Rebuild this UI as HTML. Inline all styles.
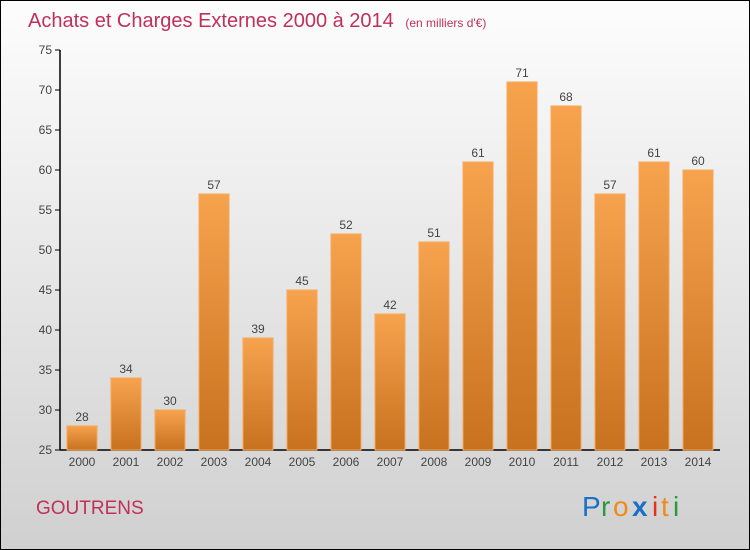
<!DOCTYPE html>
<html><head><meta charset="utf-8"><style>
body{margin:0;}
svg{display:block;}
text{font-family:"Liberation Sans",sans-serif;}
</style></head><body>
<svg id="chart" width="750" height="550">
<defs>
<linearGradient id="bg" x1="0" y1="0" x2="0" y2="1"><stop offset="0" stop-color="#fdfdfd"/><stop offset="1" stop-color="#d0d0d0"/></linearGradient>
<linearGradient id="bar" x1="0" y1="0" x2="0" y2="1"><stop offset="0" stop-color="#f7a34e"/><stop offset="1" stop-color="#c8711e"/></linearGradient>
</defs>
<rect x="0.5" y="0.5" width="749" height="549" fill="url(#bg)" stroke="#000"/>
<text x="28" y="27" font-size="20" fill="#c0305a">Achats et Charges Externes 2000 à 2014 <tspan font-size="12" dx="6">(en milliers d'€)</tspan></text>
<g id="axes"></g>
<g id="bars"></g>
<text x="36" y="514" font-size="19" fill="#c0305a">GOUTRENS</text>
<g font-size="28" font-family="Liberation Sans,sans-serif">
<text x="582" y="516" fill="#1a6fc8">P</text><text x="601" y="516" fill="#2a9a3a">r</text><text x="613" y="516" fill="#f08a1a">o</text><text x="632" y="516" fill="#1a6fc8" font-weight="bold">x</text><text x="652" y="516" fill="#e83020">i</text><text x="661" y="516" fill="#f08a1a">t</text><text x="673" y="516" fill="#2a9a3a">i</text>
</g>
</svg>
<script>
const years=["2000","2001","2002","2003","2004","2005","2006","2007","2008","2009","2010","2011","2012","2013","2014"];
const values=[28,34,30,57,39,45,52,42,51,61,71,68,57,61,60];
const yTicks=[25,30,35,40,45,50,55,60,65,70,75];
const NS="http://www.w3.org/2000/svg";
const y0=450,y1=50,vmin=25,vmax=75;
function yS(v){return y0-(v-vmin)/(vmax-vmin)*(y0-y1);}
function xS(i){return 82+i*44;}
function mk(t,a,p){const e=document.createElementNS(NS,t);for(const k in a)e.setAttribute(k,a[k]);p.appendChild(e);return e;}
const ax=document.getElementById('axes'),bg=document.getElementById('bars');
const yl=mk('line',{x1:60,y1:y1,x2:60,y2:y0,stroke:'#000','stroke-width':1.5},ax);


const xl=mk('line',{x1:60,y1:y0,x2:720,y2:y0,stroke:'#000','stroke-width':1.5},ax);


yTicks.forEach(v=>{
 mk('line',{x1:55,x2:60,y1:yS(v),y2:yS(v),stroke:'#000'},ax);
 const t=mk('text',{x:52,y:yS(v)+4,'text-anchor':'end','font-size':12,fill:'#444'},ax);
 t.textContent=v;
 
 
});
values.forEach((v,i)=>{
 const x=xS(i);
 const r=mk('rect',{x:x-15,y:yS(v),width:30,height:y0-yS(v),fill:'url(#bar)',stroke:'#f5a85a','stroke-width':1},bg);
 
 
 const l=mk('text',{x:x,y:yS(v)-5,'text-anchor':'middle','font-size':12,fill:'#444'},bg);
 l.textContent=v;
 
 
 const xt=mk('text',{x:x,y:466,'text-anchor':'middle','font-size':12,fill:'#444'},ax);
 xt.textContent=years[i];
 
 
});
</script>
</body></html>
